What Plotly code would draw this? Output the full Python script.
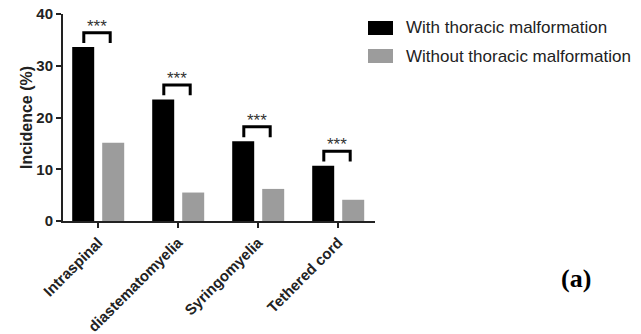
import plotly.graph_objects as go

categories = ["Intraspinal", "diastematomyelia", "Syringomyelia", "Tethered cord"]
series_names = ["With thoracic malformation", "Without thoracic malformation"]
with_vals = [33.6, 23.5, 15.4, 10.7]
without_vals = [15.1, 5.5, 6.2, 4.1]
significance = ["***", "***", "***", "***"]
y_ticks = [0, 10, 20, 30, 40]

colors = ["#000000", "#9c9c9c"]

x_idx = list(range(len(categories)))

fig = go.Figure()
fig.add_trace(go.Bar(x=x_idx, y=with_vals, name=series_names[0],
                     marker=dict(color=colors[0], line=dict(width=0)), showlegend=False))
fig.add_trace(go.Bar(x=x_idx, y=without_vals, name=series_names[1],
                     marker=dict(color=colors[1], line=dict(width=0)), showlegend=False))

# significance brackets
for i, v in enumerate(with_vals):
    base = v + 0.8
    top = v + 2.8
    xl = i - 0.18
    xr = i + 0.15
    fig.add_trace(go.Scatter(x=[xl, xl, xr, xr], y=[base, top, top, base], mode="lines",
                             line=dict(color="#000000", width=3), showlegend=False,
                             hoverinfo="skip"))
    fig.add_annotation(x=(xl + xr) / 2, y=top, xref="x", yref="y", text=significance[i],
                       showarrow=False, yanchor="bottom", yshift=-5,
                       font=dict(family="Liberation Sans, Arial", size=17, color="#333333"))

# manual legend
swatch_y = [(0.8986, 0.9662), (0.7633, 0.8309)]
text_y = [0.9324, 0.7971]
for k in range(2):
    fig.add_shape(type="rect", xref="paper", yref="paper", x0=0.9776, x1=1.0577,
                  y0=swatch_y[k][0], y1=swatch_y[k][1], fillcolor=colors[k],
                  line=dict(width=0))
    fig.add_annotation(xref="paper", yref="paper", x=1.093, y=text_y[k], text=series_names[k],
                       showarrow=False, xanchor="left", yanchor="middle",
                       font=dict(family="Liberation Sans, Arial", size=17, color="#222222"))

fig.add_annotation(xref="paper", yref="paper", x=1.644, y=-0.28, text="<b>(a)</b>",
                   showarrow=False, xanchor="center", yanchor="middle",
                   font=dict(family="Liberation Serif, Times New Roman", size=26, color="#000000"))

fig.update_layout(
    width=641, height=334,
    margin=dict(l=63, r=266, t=14, b=113),
    paper_bgcolor="white", plot_bgcolor="white",
    barmode="group", bargap=0.25, bargroupgap=0.267,
    font=dict(family="Liberation Sans, Arial", color="#222222"),
)
fig.update_xaxes(
    range=[-0.44, 3.46], tickvals=x_idx, ticktext=[f"<b>{c}</b>" for c in categories],
    tickangle=-45, tickfont=dict(size=15, color="#222222"), automargin=False,
    ticklabeloverflow="allow",
    showline=True, linecolor="#222222", linewidth=2,
    ticks="outside", ticklen=5, tickwidth=2, tickcolor="#222222",
    showgrid=False, zeroline=False,
)
fig.update_yaxes(
    range=[0, 40], tickvals=y_ticks, ticktext=[f"<b>{t}</b>" for t in y_ticks],
    tickfont=dict(size=15, color="#222222"), automargin=False,
    ticklabeloverflow="allow",
    title=dict(text="<b>Incidence (%)</b>", font=dict(size=16, color="#222222"), standoff=0),
    showline=True, linecolor="#222222", linewidth=2,
    ticks="outside", ticklen=5, tickwidth=2, tickcolor="#222222",
    showgrid=False, zeroline=False,
)

fig.write_html("out.html", config={"displayModeBar": False},
               post_script="document.body.style.margin='0';")
